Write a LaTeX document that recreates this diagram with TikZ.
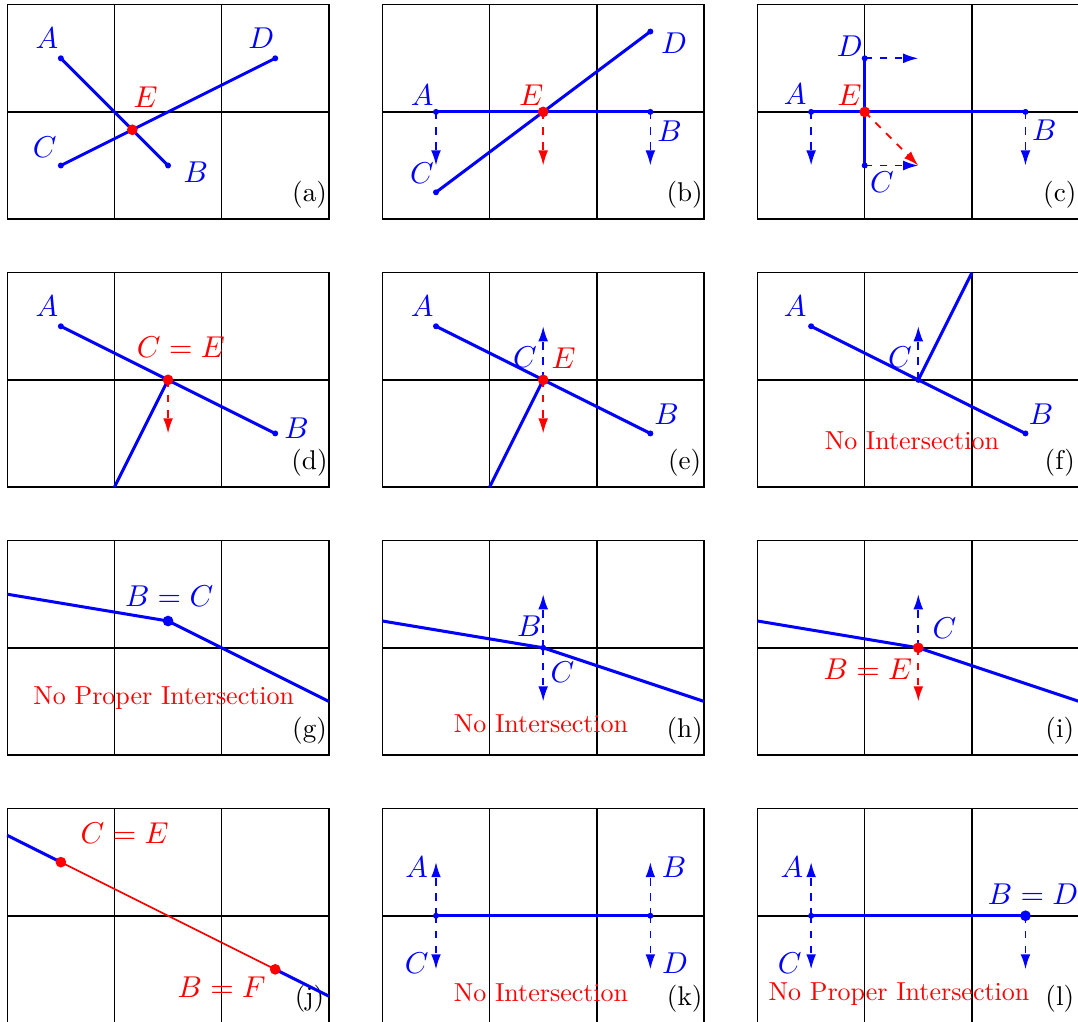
\documentclass[tikz,border=0pt]{standalone}
\usepackage{fontspec}
\usetikzlibrary{arrows.meta}
\begin{document}
\begin{tikzpicture}[
        gridline/.style={black, line width=0.4pt},
        segline/.style={blue, line width=0.8pt},
        probe/.style={line width=0.45pt, dash pattern=on 2pt off 2pt, -{Latex[length=4pt,width=2.6pt]}},
        lbl/.style={font=\fontsize{10}{12}\selectfont, scale=0.8, inner sep=0pt},
        note/.style={red, font=\fontsize{10}{12}\selectfont, scale=0.69, inner sep=0pt},
        tag/.style={font=\fontsize{10}{12}\selectfont, scale=0.72, inner sep=0pt}]
    \useasboundingbox (-0.068,-7.49) rectangle (9.99,2.044);

    % Grid of 3x2 cells in every panel (3 columns, 4 rows)
    \foreach \col in {0,1,2} {
        \foreach \row in {0,1,2,3} {
            \begin{scope}[shift={(3.5*\col,-2.5*\row)}]
                \draw[gridline] (0,0) rectangle (3,2);
                \draw[gridline] (1,0) -- (1,2) (2,0) -- (2,2) (0,1) -- (3,1);
            \end{scope}
        }
    }

    % Panel tags in the lower right corner
    \foreach \tg/\col/\row in {a/0/0, b/1/0, c/2/0, d/0/1, e/1/1, f/2/1, g/0/2, h/1/2, i/2/2, j/0/3, k/1/3, l/2/3}
        \node[tag] (tag\tg) at (3.5*\col+2.82,-2.5*\row+0.225) {(\tg)};

    % Panel (a): crossing segments
    \begin{scope}
        \coordinate (aA) at (0.5,1.5);
        \coordinate (aB) at (1.5,0.5);
        \coordinate (aC) at (0.5,0.5);
        \coordinate (aD) at (2.5,1.5);
        \coordinate (aE) at (7/6,5/6);
        \draw[segline] (aA) -- (aB);
        \draw[segline] (aC) -- (aD);
        \foreach \p in {aA,aB,aC,aD} \fill[blue] (\p) circle (0.028);
        \fill[red] (aE) circle (0.05);
        \node[lbl, blue] (laA) at (0.37,1.69) {$A$};
        \node[lbl, blue] (laB) at (1.76,0.44) {$B$};
        \node[lbl, blue] (laC) at (0.35,0.67) {$C$};
        \node[lbl, blue] (laD) at (2.37,1.69) {$D$};
        \node[lbl, red] (laE) at (1.29,1.14) {$E$};
    \end{scope}

    % Panel (b): horizontal segment, sweep events below
    \begin{scope}[shift={(3.5,0)}]
        \coordinate (bA) at (0.5,1);
        \coordinate (bB) at (2.5,1);
        \coordinate (bC) at (0.5,0.25);
        \coordinate (bD) at (2.5,1.75);
        \coordinate (bE) at (1.5,1);
        \draw[segline] (bA) -- (bB);
        \draw[segline] (bC) -- (bD);
        \draw[probe, blue] (bA) -- ++(0,-0.5);
        \draw[probe, blue] (bB) -- ++(0,-0.5);
        \draw[probe, red] (bE) -- ++(0,-0.5);
        \foreach \p in {bA,bB,bC,bD} \fill[blue] (\p) circle (0.028);
        \fill[red] (bE) circle (0.05);
        \node[lbl, blue] (lbA) at (0.37,1.155) {$A$};
        \node[lbl, blue] (lbB) at (2.68,0.82) {$B$};
        \node[lbl, blue] (lbC) at (0.37,0.43) {$C$};
        \node[lbl, blue] (lbD) at (2.72,1.64) {$D$};
        \node[lbl, red] (lbE) at (1.39,1.155) {$E$};
    \end{scope}

    % Panel (c): horizontal and vertical segment
    \begin{scope}[shift={(7,0)}]
        \coordinate (cA) at (0.5,1);
        \coordinate (cB) at (2.5,1);
        \coordinate (cC) at (1,0.5);
        \coordinate (cD) at (1,1.5);
        \coordinate (cE) at (1,1);
        \draw[segline] (cA) -- (cB);
        \draw[segline] (cC) -- (cD);
        \draw[probe, blue] (cA) -- ++(0,-0.5);
        \draw[probe, blue] (cB) -- ++(0,-0.5);
        \draw[probe, blue] (cD) -- ++(0.5,0);
        \draw[probe, blue] (cC) -- ++(0.5,0);
        \draw[probe, red] (cE) -- ++(0.5,-0.5);
        \foreach \p in {cA,cB,cC,cD} \fill[blue] (\p) circle (0.028);
        \fill[red] (cE) circle (0.05);
        \node[lbl, blue] (lcA) at (0.35,1.165) {$A$};
        \node[lbl, blue] (lcB) at (2.675,0.83) {$B$};
        \node[lbl, blue] (lcC) at (1.16,0.345) {$C$};
        \node[lbl, blue] (lcD) at (0.86,1.61) {$D$};
        \node[lbl, red] (lcE) at (0.86,1.155) {$E$};
    \end{scope}

    % Panel (d): endpoint C lies on AB
    \begin{scope}[shift={(0,-2.5)}]
        \coordinate (dA) at (0.5,1.5);
        \coordinate (dB) at (2.5,0.5);
        \coordinate (dC) at (1.5,1);
        \coordinate (dD) at (1,0);
        \draw[segline] (dA) -- (dB);
        \draw[segline] (dC) -- (dD);
        \draw[probe, red] (dC) -- ++(0,-0.5);
        \foreach \p in {dA,dB} \fill[blue] (\p) circle (0.028);
        \fill[red] (dC) circle (0.05);
        \node[lbl, blue] (ldA) at (0.37,1.685) {$A$};
        \node[lbl, blue] (ldB) at (2.70,0.55) {$B$};
        \node[lbl, red] (ldE) at (1.62,1.30) {$C=E$};
    \end{scope}

    % Panel (e): same, events above and below
    \begin{scope}[shift={(3.5,-2.5)}]
        \coordinate (eA) at (0.5,1.5);
        \coordinate (eB) at (2.5,0.5);
        \coordinate (eC) at (1.5,1);
        \coordinate (eD) at (1,0);
        \draw[segline] (eA) -- (eB);
        \draw[segline] (eC) -- (eD);
        \draw[probe, blue] (eC) -- ++(0,0.5);
        \draw[probe, red] (eC) -- ++(0,-0.5);
        \foreach \p in {eA,eB} \fill[blue] (\p) circle (0.028);
        \fill[red] (eC) circle (0.05);
        \node[lbl, blue] (leA) at (0.37,1.685) {$A$};
        \node[lbl, blue] (leB) at (2.65,0.68) {$B$};
        \node[lbl, blue] (leC) at (1.33,1.21) {$C$};
        \node[lbl, red] (leE) at (1.69,1.20) {$E$};
    \end{scope}

    % Panel (f): C on AB, segment going up
    \begin{scope}[shift={(7,-2.5)}]
        \coordinate (fA) at (0.5,1.5);
        \coordinate (fB) at (2.5,0.5);
        \coordinate (fC) at (1.5,1);
        \coordinate (fD) at (2,2);
        \draw[segline] (fA) -- (fB);
        \draw[segline] (fC) -- (fD);
        \draw[probe, blue] (fC) -- ++(0,0.5);
        \foreach \p in {fA,fB,fC} \fill[blue] (\p) circle (0.028);
        \node[lbl, blue] (lfA) at (0.35,1.685) {$A$};
        \node[lbl, blue] (lfB) at (2.645,0.68) {$B$};
        \node[lbl, blue] (lfC) at (1.33,1.21) {$C$};
        \node[note] (nf) at (1.44,0.435) {No Intersection};
    \end{scope}

    % Panel (g): shared endpoint B = C
    \begin{scope}[shift={(0,-5)}]
        \coordinate (gA) at (0,1.5);
        \coordinate (gB) at (1.5,1.25);
        \coordinate (gC) at (1.5,1.25);
        \coordinate (gD) at (3,0.5);
        \draw[segline] (gA) -- (gB);
        \draw[segline] (gC) -- (gD);
        \fill[blue] (gB) circle (0.05);
        \node[lbl, blue] (lgB) at (1.51,1.48) {$B=C$};
        \node[note] (ng) at (1.46,0.53) {No Proper Intersection};
    \end{scope}

    % Panel (h): shared endpoint, events above and below
    \begin{scope}[shift={(3.5,-5)}]
        \coordinate (hA) at (0,1.25);
        \coordinate (hB) at (1.5,1);
        \coordinate (hC) at (1.5,1);
        \coordinate (hD) at (3,0.5);
        \draw[segline] (hA) -- (hB);
        \draw[segline] (hC) -- (hD);
        \draw[probe, blue] (hB) -- ++(0,0.5);
        \draw[probe, blue] (hC) -- ++(0,-0.5);
        \fill[blue] (hB) circle (0.028);
        \node[lbl, blue] (lhB) at (1.37,1.20) {$B$};
        \node[lbl, blue] (lhC) at (1.68,0.77) {$C$};
        \node[note] (nh) at (1.48,0.295) {No Intersection};
    \end{scope}

    % Panel (i): shared endpoint reported as B = E
    \begin{scope}[shift={(7,-5)}]
        \coordinate (iA) at (0,1.25);
        \coordinate (iB) at (1.5,1);
        \coordinate (iC) at (1.5,1);
        \coordinate (iD) at (3,0.5);
        \draw[segline] (iA) -- (iB);
        \draw[segline] (iC) -- (iD);
        \draw[probe, blue] (iC) -- ++(0,0.5);
        \draw[probe, red] (iB) -- ++(0,-0.5);
        \fill[red] (iB) circle (0.05);
        \node[lbl, blue] (liC) at (1.745,1.18) {$C$};
        \node[lbl, red] (liE) at (1.03,0.80) {$B=E$};
    \end{scope}

    % Panel (j): overlapping collinear segments
    \begin{scope}[shift={(0,-7.5)}]
        \coordinate (jA) at (0,1.75);
        \coordinate (jC) at (0.5,1.5);
        \coordinate (jB) at (2.5,0.5);
        \coordinate (jD) at (3,0.25);
        \draw[segline] (jA) -- (jC);
        \draw[segline] (jB) -- (jD);
        \draw[red, line width=0.45pt] (jC) -- (jB);
        \foreach \p in {jC,jB} \fill[red] (\p) circle (0.05);
        \node[lbl, red] (ljE) at (1.095,1.77) {$C=E$};
        \node[lbl, red] (ljF) at (2.0,0.33) {$B=F$};
    \end{scope}

    % Panel (k): identical horizontal segments
    \begin{scope}[shift={(3.5,-7.5)}]
        \coordinate (kA) at (0.5,1);
        \coordinate (kC) at (0.5,1);
        \coordinate (kB) at (2.5,1);
        \coordinate (kD) at (2.5,1);
        \draw[segline] (kA) -- (kB);
        \draw[probe, blue] (kA) -- ++(0,0.5);
        \draw[probe, blue] (kC) -- ++(0,-0.5);
        \draw[probe, blue] (kB) -- ++(0,0.5);
        \draw[probe, blue] (kD) -- ++(0,-0.5);
        \foreach \p in {kA,kB} \fill[blue] (\p) circle (0.028);
        \node[lbl, blue] (lkA) at (0.32,1.45) {$A$};
        \node[lbl, blue] (lkB) at (2.72,1.45) {$B$};
        \node[lbl, blue] (lkC) at (0.32,0.555) {$C$};
        \node[lbl, blue] (lkD) at (2.73,0.555) {$D$};
        \node[note] (nk) at (1.48,0.28) {No Intersection};
    \end{scope}

    % Panel (l): shared right endpoint B = D
    \begin{scope}[shift={(7,-7.5)}]
        \coordinate (lA) at (0.5,1);
        \coordinate (lC) at (0.5,1);
        \coordinate (lB) at (2.5,1);
        \draw[segline] (lA) -- (lB);
        \draw[probe, blue] (lA) -- ++(0,0.5);
        \draw[probe, blue] (lC) -- ++(0,-0.5);
        \draw[probe, blue] (lB) -- ++(0,-0.5);
        \fill[blue] (lA) circle (0.028);
        \fill[blue] (lB) circle (0.05);
        \node[lbl, blue] (llA) at (0.32,1.45) {$A$};
        \node[lbl, blue] (llC) at (0.30,0.555) {$C$};
        \node[lbl, blue] (llB) at (2.57,1.20) {$B=D$};
        \node[note] (nl) at (1.32,0.265) {No Proper Intersection};
    \end{scope}
\end{tikzpicture}
\end{document}
